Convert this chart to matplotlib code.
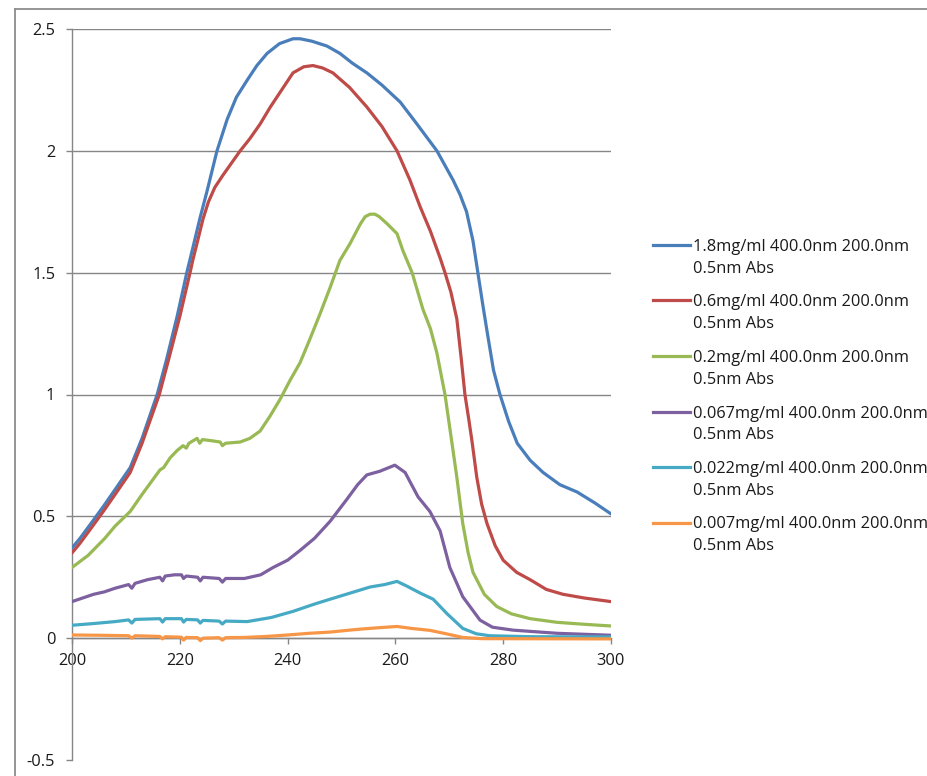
import matplotlib
matplotlib.use("Agg")
import matplotlib.pyplot as plt
from matplotlib.lines import Line2D
from matplotlib.ticker import MultipleLocator

plt.rcParams['font.family'] = ['Open Sans', 'DejaVu Sans']

# Absorbance spectra (wavelength in nm, absorbance)
wl_1_8 = [200, 201.5, 203.5, 205.8, 208, 210.8, 213, 215.8, 217.5, 219.5, 221.3, 222.4,
          223.7, 225, 226.9, 228.8, 230.5, 232.5, 234.3, 236.2, 238.5, 241, 242.3, 244.5,
          247.3, 249.7, 252, 254.7, 257.5, 260.9, 264, 267.7, 270.7, 272, 273.2, 274.4,
          275.3, 276.2, 277, 278.2, 279.4, 281, 282.6, 285, 287.4, 290.5, 293.7, 297, 300]
abs_1_8 = [0.37, 0.41, 0.47, 0.54, 0.61, 0.70, 0.82, 1.0, 1.14, 1.32, 1.5, 1.6,
           1.72, 1.83, 2.0, 2.13, 2.22, 2.29, 2.35, 2.40, 2.44, 2.46, 2.46, 2.45,
           2.43, 2.40, 2.36, 2.32, 2.27, 2.20, 2.11, 2.0, 1.88, 1.82, 1.75, 1.63,
           1.50, 1.37, 1.26, 1.10, 1.0, 0.89, 0.80, 0.73, 0.68, 0.63, 0.60, 0.555, 0.51]

wl_0_6 = [200, 201.5, 203.5, 205.8, 208, 210.8, 213, 216.2, 218, 220, 221.9, 222.4,
          223.3, 224.3, 225.3, 226.5, 228, 231.2, 233, 234.9, 236.8, 238.6, 241, 243,
          244.7, 246.5, 248.4, 251.5, 254.7, 257.5, 260.3, 262.7, 264.6, 266.5, 268.3,
          269.2, 270.3, 271.4, 272.2, 272.9, 273.6, 274.2, 275.1, 276, 277, 278.5, 280,
          282.5, 285, 288, 291.1, 295, 300]
abs_0_6 = [0.35, 0.39, 0.45, 0.52, 0.59, 0.68, 0.80, 1.0, 1.15, 1.32, 1.5, 1.55,
           1.63, 1.72, 1.79, 1.85, 1.90, 2.0, 2.05, 2.11, 2.18, 2.24, 2.32, 2.345,
           2.35, 2.34, 2.32, 2.26, 2.18, 2.10, 2.0, 1.88, 1.77, 1.67, 1.56,
           1.5, 1.42, 1.31, 1.15, 1.0, 0.90, 0.81, 0.66, 0.55, 0.47, 0.38, 0.32,
           0.27, 0.24, 0.20, 0.18, 0.165, 0.15]

wl_0_2 = [200, 203, 206.1, 208, 210.8, 213, 216.3, 217, 218.2, 219.5, 220.6, 221.2,
          221.7, 223.2, 223.7, 224.2, 226, 227.5, 227.9, 228.5, 231.2, 233, 234.9,
          236.7, 238.6, 240.5, 242.3, 244, 246, 247.9, 249.7, 251.6, 253.5, 254.4,
          255.3, 256.2, 257, 258.5, 260.3, 261.4, 263.1, 265.1, 266.5, 267.7, 269.2,
          270.5, 271.4, 272.5, 273.5, 274.4, 276.5, 278.8, 281.5, 285, 290, 295, 300]
abs_0_2 = [0.29, 0.34, 0.41, 0.46, 0.52, 0.59, 0.69, 0.70, 0.74, 0.77, 0.79, 0.78,
           0.80, 0.82, 0.80, 0.815, 0.81, 0.805, 0.79, 0.80, 0.805, 0.82, 0.85,
           0.91, 0.98, 1.06, 1.13, 1.22, 1.33, 1.44, 1.55, 1.62, 1.70, 1.73,
           1.74, 1.74, 1.73, 1.70, 1.66, 1.59, 1.50, 1.35, 1.27, 1.17, 1.0,
           0.80, 0.66, 0.47, 0.35, 0.27, 0.18, 0.13, 0.10, 0.08, 0.065, 0.057, 0.05]

wl_0_067 = [200, 202, 204, 206, 208, 210.5, 211.1, 211.7, 214, 216.3, 216.8, 217.3,
            219, 220.3, 220.7, 221.2, 223.3, 223.8, 224.3, 227.3, 227.9, 228.5, 232,
            235, 237.3, 240, 242.3, 245, 247.9, 251, 253, 254.7, 257.1, 259.9, 261.8,
            263, 264.2, 266.4, 268.3, 270.1, 272.5, 275.7, 278, 281.8, 290, 300]
abs_0_067 = [0.15, 0.165, 0.18, 0.19, 0.205, 0.22, 0.205, 0.225, 0.24, 0.25, 0.235, 0.255,
             0.26, 0.26, 0.245, 0.255, 0.25, 0.235, 0.25, 0.245, 0.23, 0.245, 0.245,
             0.26, 0.29, 0.32, 0.36, 0.41, 0.48, 0.57, 0.63, 0.67, 0.685, 0.71, 0.68,
             0.63, 0.58, 0.52, 0.44, 0.29, 0.17, 0.074, 0.045, 0.033, 0.02, 0.012]

wl_0_022 = [200, 204, 208, 210.5, 211.1, 211.7, 216.3, 216.8, 217.3, 220.3, 220.7, 221.2,
            223.3, 223.8, 224.3, 227.3, 227.9, 228.5, 232.5, 237, 241, 245, 247.9, 251.6,
            255.3, 258, 260.3, 262, 264.6, 267, 269.6, 272.5, 275, 277.5, 285, 300]
abs_0_022 = [0.053, 0.06, 0.068, 0.075, 0.062, 0.077, 0.08, 0.066, 0.08, 0.08, 0.066, 0.077,
             0.075, 0.062, 0.073, 0.07, 0.058, 0.07, 0.068, 0.085, 0.11, 0.14, 0.16, 0.185,
             0.21, 0.22, 0.233, 0.215, 0.185, 0.16, 0.10, 0.04, 0.018, 0.01, 0.006, 0.005]

wl_0_007 = [200, 205, 210.5, 211.1, 211.7, 216.3, 216.8, 217.3, 220.3, 220.7, 221.2,
            223.3, 223.8, 224.3, 227.3, 227.9, 228.5, 232, 236, 240, 244, 247.9, 251,
            254, 257, 260.3, 263, 266.4, 269, 272.5, 276, 300]
abs_0_007 = [0.013, 0.012, 0.01, 0.0, 0.01, 0.007, -0.003, 0.006, 0.004, -0.008, 0.003,
             0.002, -0.01, 0.0, 0.002, -0.008, 0.002, 0.003, 0.007, 0.013, 0.02, 0.025, 0.032,
             0.038, 0.043, 0.048, 0.04, 0.032, 0.02, 0.003, -0.002, -0.003]

series_labels = [
    "1.8mg/ml 400.0nm 200.0nm\n0.5nm Abs",
    "0.6mg/ml 400.0nm 200.0nm\n0.5nm Abs",
    "0.2mg/ml 400.0nm 200.0nm\n0.5nm Abs",
    "0.067mg/ml 400.0nm 200.0nm\n0.5nm Abs",
    "0.022mg/ml 400.0nm 200.0nm\n0.5nm Abs",
    "0.007mg/ml 400.0nm 200.0nm\n0.5nm Abs",
]
series_colors = ["#4A7EBB", "#BE4B48", "#98B954", "#7D60A0", "#46AAC5", "#F79646"]

series = [(wl_1_8, abs_1_8), (wl_0_6, abs_0_6), (wl_0_2, abs_0_2),
          (wl_0_067, abs_0_067), (wl_0_022, abs_0_022), (wl_0_007, abs_0_007)]

W, H = 928, 776
fig = plt.figure(figsize=(W / 100, H / 100), dpi=100)
fig.patch.set_facecolor("white")

# chart frame (left and top edges visible)
frame_col = "#8C8C8C"
fig.add_artist(Line2D([15 / W, 15 / W], [0, 1 - 9 / H], transform=fig.transFigure,
                      color=frame_col, lw=1.3))
fig.add_artist(Line2D([15 / W, 1.0], [1 - 9 / H, 1 - 9 / H], transform=fig.transFigure,
                      color=frame_col, lw=1.3))

ax = fig.add_axes([72 / W, 16 / H, (611 - 72) / W, (760 - 29) / H])
ax.set_xlim(200, 300)
ax.set_ylim(-0.5, 2.5)

axis_col = "#868686"
for (x, y), c in zip(series, series_colors):
    ax.plot(x, y, color=c, lw=2.3, solid_capstyle="round", solid_joinstyle="round",
            zorder=3)

ax.xaxis.set_major_locator(MultipleLocator(20))
ax.yaxis.set_major_locator(MultipleLocator(0.5))
ax.yaxis.set_major_formatter(plt.FuncFormatter(lambda v, p: f"{v:g}"))

ax.spines["top"].set_visible(False)
ax.spines["right"].set_visible(False)
ax.spines["bottom"].set_position(("data", 0))
ax.spines["bottom"].set_color(axis_col)
ax.spines["left"].set_color(axis_col)
ax.spines["bottom"].set_linewidth(1.0)
ax.spines["left"].set_linewidth(1.0)
ax.spines["bottom"].set_zorder(2)

ax.tick_params(axis="both", direction="out", length=4, width=1.0, color=axis_col,
               labelsize=11.8, labelcolor="#1a1a1a")
ax.tick_params(axis="y", pad=8)
ax.tick_params(axis="x", pad=7)

ax.yaxis.grid(True, color=axis_col, lw=1.0)
ax.set_axisbelow(True)
fig.canvas.draw()
for v, gl in zip(ax.get_yticks(), ax.yaxis.get_gridlines()):
    if v <= -0.5 + 1e-9:
        gl.set_visible(False)

# legend
leg_top = 245
leg_step = 55.5
line_gap = 21.6
for i, (lab, c) in enumerate(zip(series_labels, series_colors)):
    ypx = leg_top + i * leg_step
    yf = 1 - ypx / H
    fig.add_artist(Line2D([653 / W, 690 / W], [yf, yf], transform=fig.transFigure,
                          color=c, lw=2.3))
    first, second = lab.split("\n")
    fig.text(693 / W, yf, first, va="center_baseline", ha="left", fontsize=11.8,
             color="#1a1a1a")
    fig.text(693 / W, 1 - (ypx + line_gap) / H, second, va="center_baseline", ha="left",
             fontsize=11.8, color="#1a1a1a")

fig.savefig("out.png", dpi=100)
